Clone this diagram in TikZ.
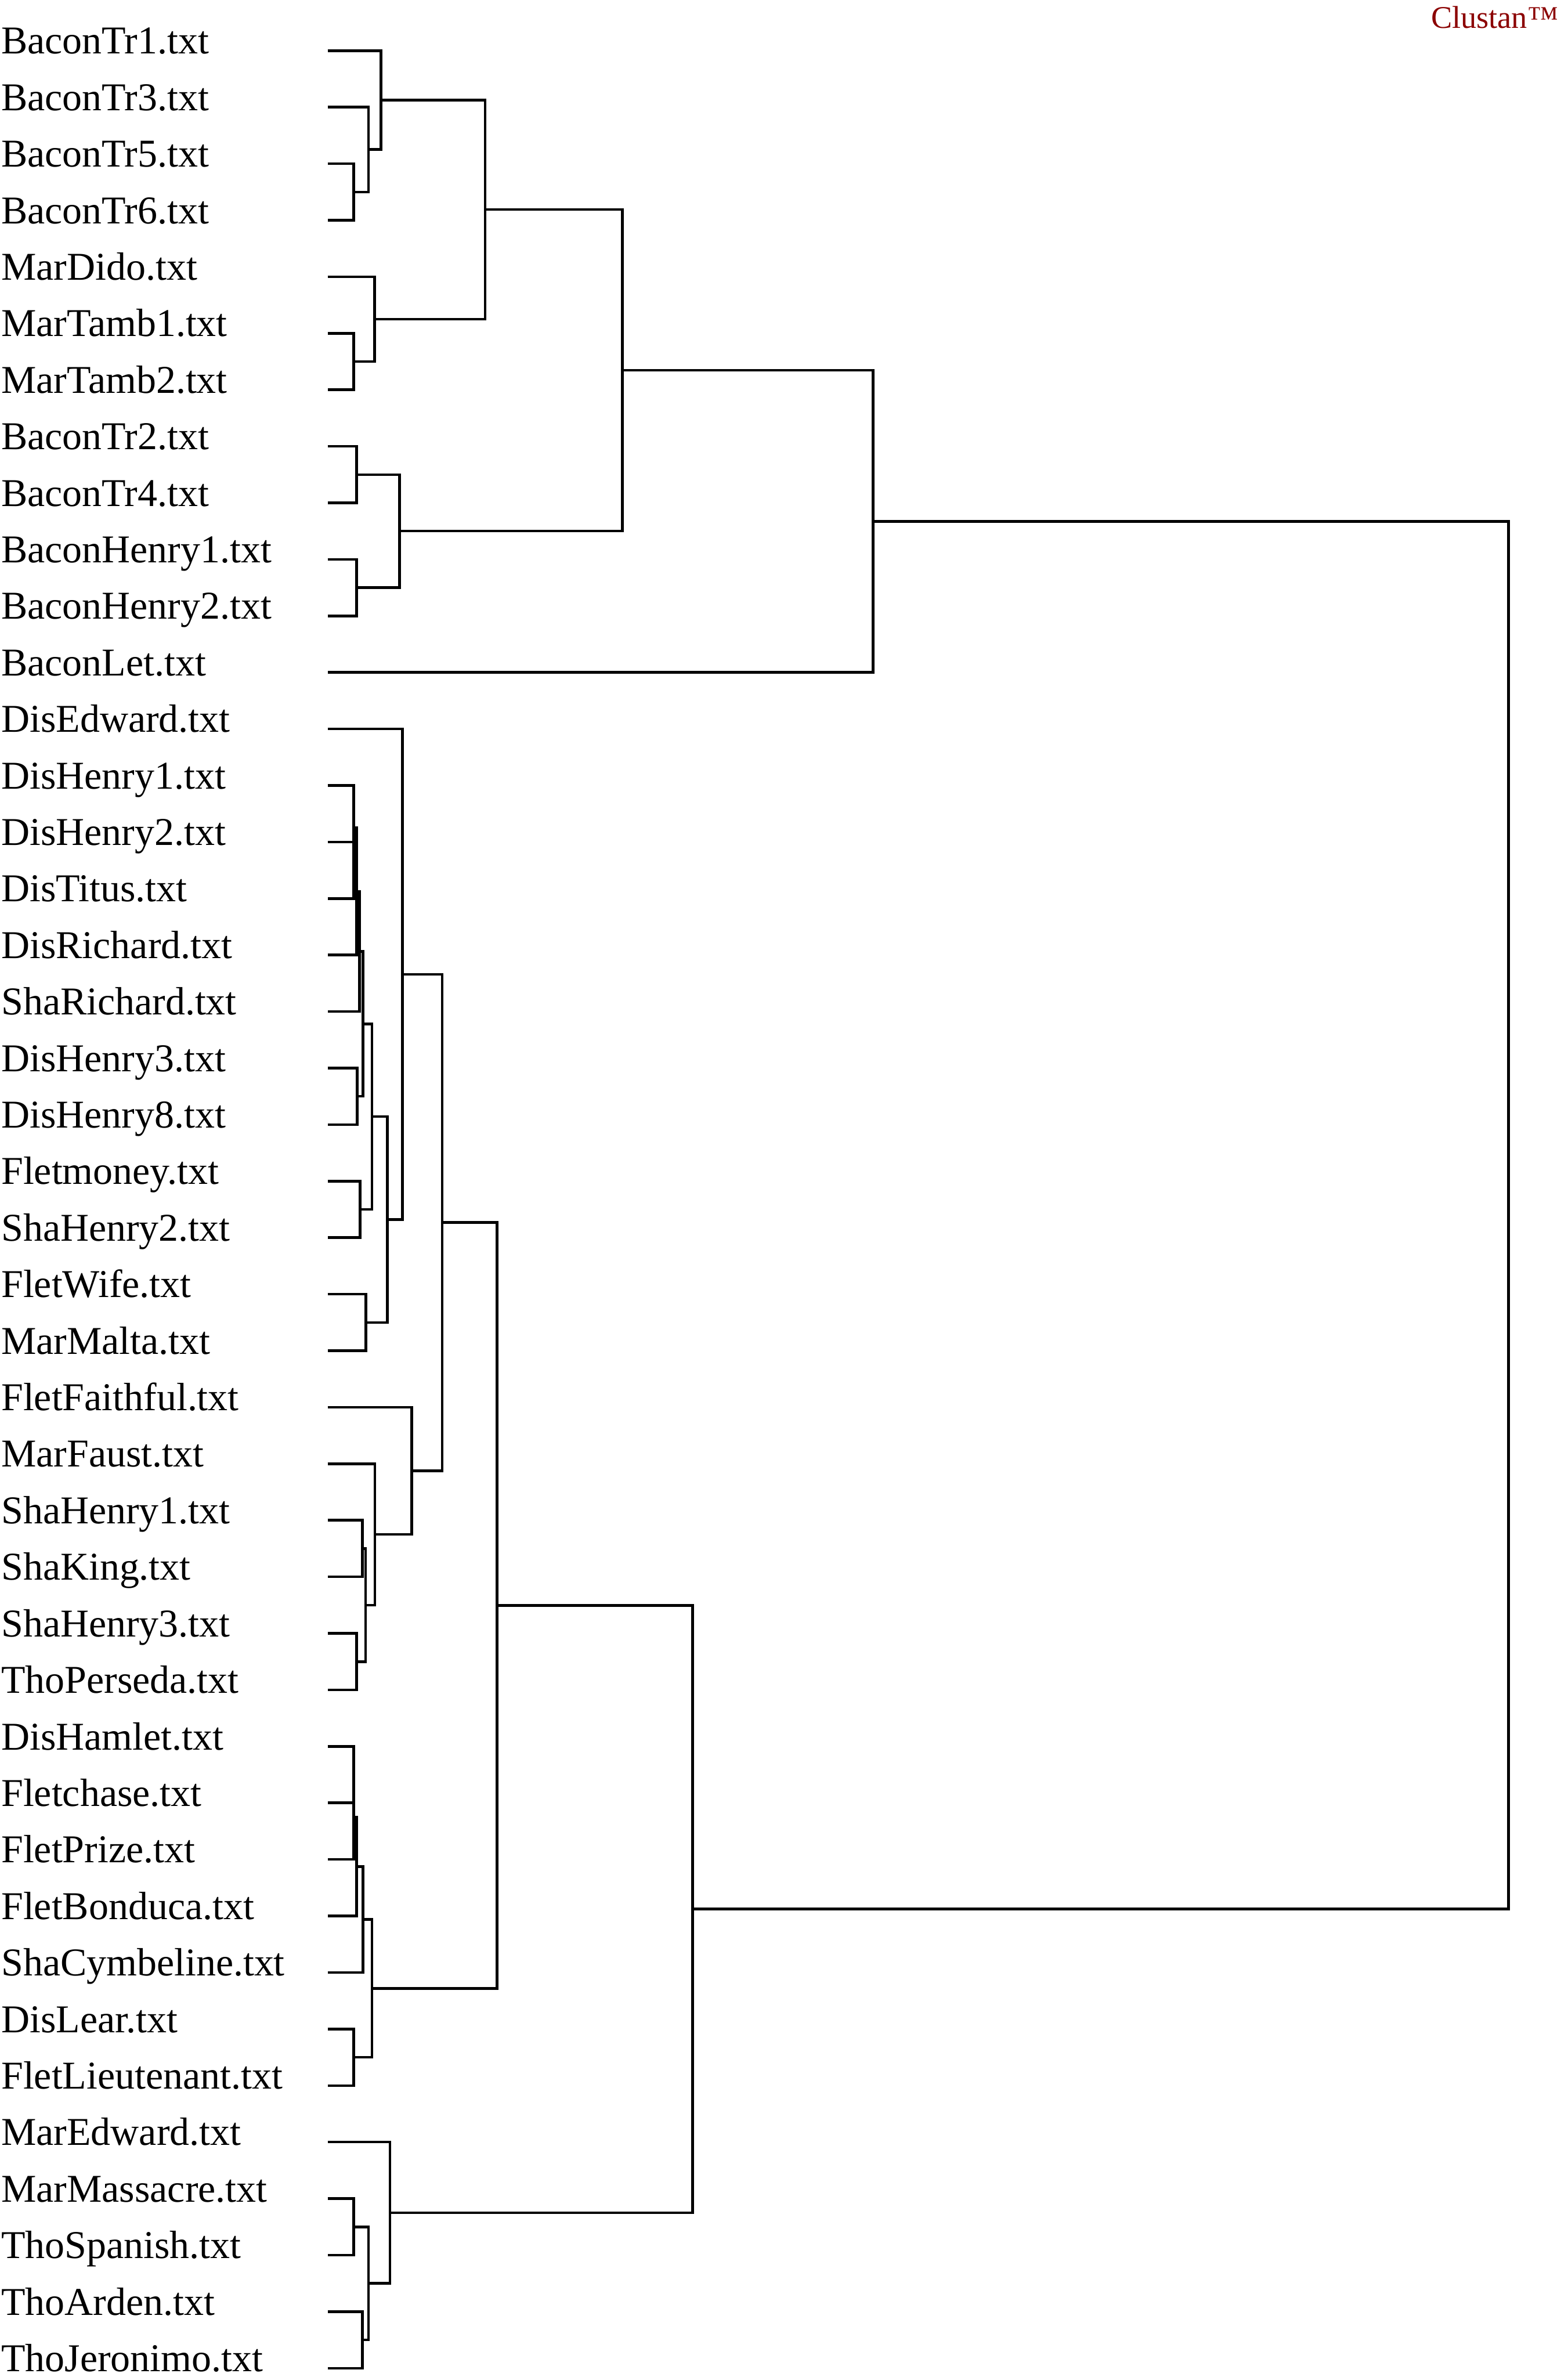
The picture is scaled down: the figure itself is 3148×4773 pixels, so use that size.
\documentclass[tikz,border=0pt]{standalone}
\usepackage{fontspec}
\setmainfont{Liberation Serif}
\definecolor{clustanred}{RGB}{139,0,0}
\tikzset{
  leaf/.style={anchor=base west, inner sep=0pt, font=\fontsize{22.5pt}{26pt}\selectfont},
  branch/.style={line width=1.5pt, line join=miter},
}
\begin{document}
\begin{tikzpicture}[x=0.01cm, y=-0.01cm]
    \useasboundingbox (0,0) rectangle (3148,4773);
    \node[anchor=base west, inner sep=0pt, text=clustanred, font=\fontsize{18pt}{20pt}\selectfont] (logo) at (2873,57) {Clustan™};
    % leaves
    \foreach \name [count=\i] in {BaconTr1,BaconTr3,BaconTr5,BaconTr6,MarDido,MarTamb1,MarTamb2,
        BaconTr2,BaconTr4,BaconHenry1,BaconHenry2,BaconLet,DisEdward,DisHenry1,DisHenry2,DisTitus,
        DisRichard,ShaRichard,DisHenry3,DisHenry8,Fletmoney,ShaHenry2,FletWife,MarMalta,FletFaithful,
        MarFaust,ShaHenry1,ShaKing,ShaHenry3,ThoPerseda,DisHamlet,Fletchase,FletPrize,FletBonduca,
        ShaCymbeline,DisLear,FletLieutenant,MarEdward,MarMassacre,ThoSpanish,ThoArden,ThoJeronimo}
    {
        \node[leaf] (l\i) at (2, {101.7+(\i-1)*113.5+6.6}) {\name.txt};
        \coordinate (p\i) at (658, {101.7+(\i-1)*113.5});
    }
    % merges: first/second/level/name
    \foreach \a/\b/\x/\m in {p3/p4/710/t1, p2/t1/740/t2, p1/t2/765/t3, p6/p7/710/t4, p5/t4/752/t5,
        t3/t5/974/t6, p8/p9/716/t7, p10/p11/716/t8, t7/t8/802/t9, t6/t9/1250/t10, t10/p12/1753/t11,
        p15/p16/710/d1, p14/d1/710/d2, d2/p17/716/d3, d3/p18/722/d4, p19/p20/717/d5, d4/d5/729/d6,
        p21/p22/723/d7, d6/d7/747/d8, p23/p24/735/d9, d8/d9/778/d10, p13/d10/808/d11,
        p27/p28/728/f1, p29/p30/716/f2, f1/f2/734/f3, p26/f3/753/f4, p25/f4/827/f5, d11/f5/888/d12,
        p31/p32/710/h1, h1/p33/710/h2, h2/p34/716/h3, h3/p35/729/h4, p36/p37/710/h5, h4/h5/747/h6,
        d12/h6/998/q1, p39/p40/710/r1, p41/p42/728/r2, r1/r2/740/r3, p38/r3/783/r4,
        q1/r4/1391/s1, t11/s1/3029/root}
    {
        \path (\a) -- (\b) coordinate[pos=.5] (h\m);
        \coordinate (\m) at (\x,0 |- h\m);
        \draw[branch] (\a) -| (\m) |- (\b);
    }
\end{tikzpicture}
\end{document}
